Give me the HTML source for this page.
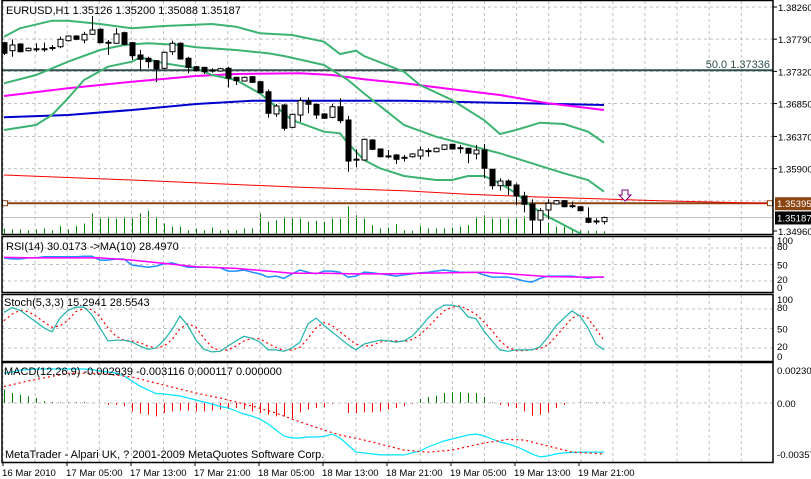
<!DOCTYPE html>
<html><head><meta charset="utf-8"><style>
html,body{margin:0;padding:0;background:#fff;overflow:hidden}
svg{display:block;font-family:"Liberation Sans",sans-serif;font-size:11px}
#axes text{font-size:9.6px}
</style></head><body>
<svg id="chart" width="811" height="479" viewBox="0 0 811 479" xmlns="http://www.w3.org/2000/svg">
<defs>
<clipPath id="cMain"><rect x="2" y="1" width="771" height="233"/></clipPath>
<clipPath id="cRsi"><rect x="2" y="237" width="771" height="55"/></clipPath>
<clipPath id="cSto"><rect x="2" y="295" width="771" height="66"/></clipPath>
<clipPath id="cMacd"><rect x="2" y="363" width="771" height="99"/></clipPath>
</defs>
<rect x="0" y="0" width="811" height="479" fill="#fff"/>
<g id="grid"></g>
<g id="main" clip-path="url(#cMain)"></g>
<g id="rsi" clip-path="url(#cRsi)"></g>
<g id="sto" clip-path="url(#cSto)"></g>
<g id="macd" clip-path="url(#cMacd)"></g>
<g id="frames">
<rect x="2" y="0.5" width="771" height="234" fill="none" stroke="#000" stroke-width="1.5"/>
<rect x="2" y="236.5" width="771" height="56" fill="none" stroke="#000" stroke-width="1.5"/>
<rect x="2" y="294.5" width="771" height="67" fill="none" stroke="#000" stroke-width="1.5"/>
<rect x="2" y="362.5" width="771" height="100" fill="none" stroke="#000" stroke-width="1.5"/>
</g>
<g id="axes"></g>
<text x="6" y="14">EURUSD,H1  1.35126 1.35200 1.35088 1.35187</text>
<text x="6" y="250">RSI(14) 30.0173  -&gt;MA(10) 28.4970</text>
<text x="4" y="306">Stoch(5,3,3) 15.2941 28.5543</text>
<text x="4" y="375">MACD(12,26,9) -0.002939 -0.003116 0.000117 0.000000</text>
<text x="5" y="458">MetaTrader - Alpari UK, ? 2001-2009 MetaQuotes Software Corp.</text>
<text x="770" y="68" text-anchor="end" fill="#2f4f4f">50.0 1.37336</text>
<polygon points="622,190 628,190 628,195 631,195 625,201 619,195 622,195" fill="#fff" stroke="#800080"/>
</svg>
<script>
// ---- data ----
const opens=[1.37739,1.37622,1.37720,1.37622,1.37650,1.37647,1.37665,1.37680,1.37768,1.37836,
1.37778,1.37861,1.37934,1.37745,1.37730,1.37885,1.37739,1.37559,1.37511,1.37476,
1.37365,1.37607,1.37730,1.37511,1.37388,1.37378,1.37338,1.37325,1.37365,1.37233,
1.37179,1.37242,1.37169,1.37023,1.36698,1.36829,1.36503,1.36683,1.36892,1.36839,
1.36698,1.36649,1.36804,1.36610,1.36036,1.36026,1.36318,1.36187,1.36086,1.36099,
1.36065,1.36074,1.36084,1.36161,1.36147,1.36182,1.36255,1.36206,1.36197,1.36114,
1.36172,1.35890,1.35651,1.35719,1.35661,1.35500,1.35384,1.35150,1.35296,1.35384,
1.35432,1.35359,1.35344,1.35175,1.35136,1.35126];
const highs=[1.37753,1.37788,1.37730,1.37670,1.37730,1.37739,1.37705,1.37826,1.37850,1.37850,
1.37899,1.38128,1.37950,1.37778,1.37949,1.37900,1.37750,1.37632,1.37534,1.37486,
1.37610,1.37768,1.37745,1.37534,1.37400,1.37388,1.37365,1.37375,1.37388,1.37240,
1.37245,1.37250,1.37180,1.37058,1.36844,1.36844,1.36705,1.36936,1.36941,1.36850,
1.36710,1.36844,1.36927,1.36668,1.36182,1.36340,1.36330,1.36195,1.36172,1.36114,
1.36099,1.36125,1.36220,1.36197,1.36210,1.36255,1.36265,1.36245,1.36205,1.36245,
1.36260,1.35900,1.35759,1.35744,1.35686,1.35563,1.35452,1.35321,1.35452,1.35442,
1.35442,1.35417,1.35350,1.35335,1.35175,1.35200];
const lows=[1.37559,1.37534,1.37598,1.37610,1.37607,1.37607,1.37622,1.37657,1.37755,1.37775,
1.37730,1.37855,1.37730,1.37559,1.37725,1.37700,1.37486,1.37340,1.37365,1.37164,
1.37350,1.37559,1.37490,1.37292,1.37320,1.37282,1.37301,1.37315,1.37087,1.37121,
1.37170,1.37150,1.37000,1.36644,1.36658,1.36454,1.36490,1.36585,1.36708,1.36625,
1.36625,1.36635,1.36562,1.35855,1.35919,1.36015,1.36170,1.36065,1.36051,1.35968,
1.36002,1.36060,1.36036,1.36074,1.36135,1.36170,1.36175,1.36124,1.35978,1.36036,
1.35759,1.35598,1.35578,1.35515,1.35369,1.35262,1.34931,1.34931,1.35160,1.35374,
1.35335,1.35321,1.35280,1.35102,1.35087,1.35088];
const closes=[1.37584,1.37705,1.37607,1.37657,1.37647,1.37650,1.37668,1.37788,1.37836,1.37788,
1.37861,1.37924,1.37739,1.37742,1.37866,1.37715,1.37549,1.37496,1.37461,1.37355,
1.37598,1.37730,1.37501,1.37378,1.37330,1.37315,1.37335,1.37359,1.37219,1.37184,
1.37233,1.37160,1.37008,1.36708,1.36814,1.36489,1.36693,1.36892,1.36839,1.36683,
1.36635,1.36804,1.36600,1.36011,1.36038,1.36328,1.36182,1.36074,1.36084,1.36036,
1.36063,1.36114,1.36172,1.36163,1.36197,1.36245,1.36187,1.36204,1.36124,1.36172,
1.35905,1.35651,1.35719,1.35651,1.35500,1.35379,1.35150,1.35286,1.35394,1.35432,
1.35344,1.35357,1.35286,1.35116,1.35134,1.35187];
const volumes=[500,400,400,330,400,500,330,730,400,730,1000,2000,1500,1670,1500,1670,1500,2000,2270,1670,
1000,670,670,330,500,330,600,330,330,330,500,500,2000,1170,1330,1670,1500,1500,1170,1270,
1170,1500,1500,2730,1830,1500,830,500,600,930,330,270,730,500,500,500,600,670,830,1670,
1830,1500,1500,1500,1500,1730,1330,670,1070,670,670,330,330,270,270,230];
const bbUpperIdx=[0,2,6,8,12,16,20,26,29,32,36,40,42,44,45,50,52,56,60,62,64,67,70,73,75];
const bbUpper=[1.37826,1.37949,1.38060,1.38060,1.38012,1.37949,1.37982,1.38012,1.37972,1.37876,1.37851,1.37753,1.37574,1.37622,1.37544,1.37315,1.37121,1.36902,1.36610,1.36406,1.36464,1.36571,1.36552,1.36439,1.36279];
const bbMidIdx=[0,4,8,12,15,18,22,24,29,33,35,40,43,45,50,54,58,62,66,70,73,75];
const bbMid=[1.37146,1.37267,1.37461,1.37632,1.37705,1.37730,1.37705,1.37671,1.37632,1.37584,1.37544,1.37413,1.37194,1.36999,1.36537,1.36366,1.36245,1.36124,1.35978,1.35832,1.35734,1.35563];
const bbLowIdx=[0,4,6,8,10,13,16,17,20,24,26,29,32,34,36,40,42,43,45,47,50,54,56,58,60,62,64,66,68,70,72,74];
const bbLow=[1.36464,1.36537,1.36683,1.36927,1.37194,1.37388,1.37461,1.37525,1.37438,1.37365,1.37267,1.37194,1.36999,1.36804,1.36610,1.36439,1.36416,1.36270,1.36026,1.35905,1.35792,1.35734,1.35734,1.35792,1.35792,1.35686,1.35540,1.35344,1.35198,1.35077,1.34956,1.34785];
const maMagIdx=[0,8,16,24,29,37,41,45,50,56,62,68,75];
const maMag=[1.36960,1.37073,1.37169,1.37252,1.37282,1.37292,1.37267,1.37204,1.37146,1.37058,1.36975,1.36854,1.36756];
const maBlueIdx=[0,8,16,24,31,50,75];
const maBlue=[1.36649,1.36683,1.36756,1.36844,1.36892,1.36892,1.36829];
const maRedIdx=[0,16,37,50,58,66,75,83,95,101];
const maRed=[1.35807,1.35734,1.35627,1.35578,1.35525,1.35490,1.35457,1.35427,1.35394,1.35380];
const fiboLevel=1.37336, brownLevel=1.35395, bidLevel=1.35187;
const priceTicks=[1.38260,1.37790,1.37320,1.36850,1.36370,1.35900];
const rsiVals=[62,60,60,62,62,64,64,64,64,64,65,65,58,58,60,60,49,47,45,47,51,53,49,45,45,45,45,44,38,38,
40,36,33,27,29,25,33,40,36,33,38,38,36,27,29,36,35,33,31,29,31,33,35,36,38,40,38,36,36,36,
31,27,27,27,24,20,18,25,29,29,29,29,27,25,27,27];
const rsiMaIdx=[0,4,8,12,16,20,24,29,33,36,40,44,48,52,56,60,64,68,72,75];
const rsiMa=[63,62,62,62,58,52,46,43,38,34,34,33,33,34,35,36,32,28,27,27];
const stochK=[75,82,78,69,60,51,45,66,78,83,83,71,51,31,32,32,29,23,18,20,32,48,69,54,32,18,14,15,23,31,
38,35,29,17,17,15,20,29,57,66,55,45,35,25,17,26,29,32,31,29,31,38,51,66,78,86,86,83,68,65,
46,31,17,15,17,17,17,22,37,54,66,77,69,51,26,17];
const stochD=[62,72,78,76,69,60,52,54,63,76,81,79,68,51,38,32,31,28,23,20,23,33,50,57,52,35,21,16,17,23,
31,35,34,27,21,16,17,21,35,51,59,55,45,35,26,23,24,29,31,31,30,33,40,52,65,77,83,85,79,72,
60,47,31,21,16,16,17,19,25,38,52,66,71,66,49,32];
const macdMain=[20.9,21.6,23,23.3,23.7,23.7,23.7,23.7,23.7,23.7,23.7,23.3,22.3,21.6,20.9,18.8,15.3,11.8,9.1,6.6,
6.3,5.6,4.9,3.5,2.1,0.7,-0.7,-2.4,-3.5,-5.6,-7.7,-9.1,-11.2,-14.6,-18.8,-23,-24.4,-24.4,-23.7,-23.7,
-23.3,-21.6,-24.4,-29.3,-34.2,-34.8,-35.5,-36.2,-36.2,-36.2,-36.2,-34.8,-33.5,-30.7,-28.6,-26.5,-25.1,-23.7,-22.3,-21.6,
-23,-25.1,-27.2,-28.6,-30.3,-32.8,-35.5,-37.6,-36.9,-35.5,-34.8,-34.5,-34.2,-34.2,-34.2,-34.2];
const macdSigIdx=[0,3,8,12,16,20,24,27,31,34,36,40,42,45,47,50,53,56,60,63,65,68,71,75];
const macdSig=[11.4,15.3,20.7,20.7,18.1,12.5,7,3.5,-2.1,-7,-11.2,-18.8,-22.3,-25.8,-28.6,-32.8,-34.2,-32.8,-27.9,-25.4,-25.8,-30,-34.2,-35.5];
const macdHist=[9.3,7,5.8,4.6,3.5,1.2,0.7,0.5,0.5,0.5,0.7,0.2,0,-1.2,-1.2,-2.3,-5.8,-7.4,-8.1,-9.3,
-7,-5.8,-5.1,-5.1,-5.8,-5.8,-5.1,-4.6,-4.2,-3.5,-4.2,-5.8,-7,-8.1,-9.3,-9.3,-10.5,-6.5,-4.6,-3.5,
-3,-0.5,0,-7,-7,-6.5,-6.5,-5.8,-4.6,-3.5,-2.3,-0.5,2.8,4.2,5.1,7,7.4,7.4,7,7,
4.2,0.5,-1.2,-2.3,-3.5,-5.8,-8.8,-8.1,-6.5,-3.5,-1.2,0,0.4,0.4,0.4,0.4];
const dateLabels=["16 Mar 2010","17 Mar 05:00","17 Mar 13:00","17 Mar 21:00","18 Mar 05:00","18 Mar 13:00","18 Mar 21:00","19 Mar 05:00","19 Mar 13:00","19 Mar 21:00"];
const oscTicks=[80,50,20];

// ---- axis functions ----
const NS="http://www.w3.org/2000/svg";
const xb=i=>4+8*i;
const yP=p=>(1.38362-p)/0.000146;
const yVol=v=>233.5-v/100;
const yRsi=v=>292-0.55*v;
const ySto=v=>361-0.65*v;
const yMacd=v=>403-v*1.4348;
function mk(tag,attrs,parent){const e=document.createElementNS(NS,tag);for(const k in attrs)e.setAttribute(k,attrs[k]);parent.appendChild(e);return e;}
const G=id=>document.getElementById(id);

// grid
const grid=G('grid');
for(let x=3;x<773;x+=32.1){
 for(const [a,b] of [[1,234],[237,292],[295,361],[363,462]]){
  const l=mk('line',{x1:x,x2:x,y1:a,y2:b,stroke:'#c0c0c0','stroke-dasharray':'3,3'},grid);
  
  
 }
}
priceTicks.concat([1.35430]).forEach(p=>{
 const l=mk('line',{x1:2,x2:773,y1:yP(p),y2:yP(p),stroke:'#c0c0c0','stroke-dasharray':'3,3'},grid);
 
 
});
oscTicks.forEach(v=>{
 const a=mk('line',{x1:2,x2:773,y1:yRsi(v),y2:yRsi(v),stroke:'#c0c0c0','stroke-dasharray':'3,3'},grid);
 
 
 const b=mk('line',{x1:2,x2:773,y1:ySto(v),y2:ySto(v),stroke:'#c0c0c0','stroke-dasharray':'3,3'},grid);
 
 
});
const z=mk('line',{x1:2,x2:773,y1:yMacd(0),y2:yMacd(0),stroke:'#c0c0c0','stroke-dasharray':'3,3'},grid);



// main panel
const main=G('main');
volumes.forEach((v,i)=>{
 const l=mk('line',{x1:xb(i)+0.5,x2:xb(i)+0.5,y1:233.5,y2:yVol(v),stroke:'#008000'},main);
 
 
});
function hline(p,color,w,name){const l=mk('line',{x1:2,x2:773,y1:yP(p),y2:yP(p),stroke:color,'stroke-width':w},main);
 
 }
hline(bidLevel,'#c0c0c0',1,'bid-price-line');
hline(fiboLevel,'#2f4f4f',2,'fibo-50-line');
hline(brownLevel,'#8b4513',2,'horizontal-level-line');
function poly(idx,vals,yf,color,w,parent,name,dash){
 const pts=vals.map((v,k)=>xb(idx?idx[k]:k)+','+yf(v).toFixed(1)).join(' ');
 const a={points:pts,fill:'none',stroke:color,'stroke-width':w};
 if(dash)a['stroke-dasharray']=dash;
 const e=mk('polyline',a,parent);
 
 
}
poly(maRedIdx,maRed,yP,'#ff0000',1,main,'ma-red-line');
poly(maBlueIdx,maBlue,yP,'#0000cd',2,main,'ma-blue-line');
poly(maMagIdx,maMag,yP,'#ff00ff',2,main,'ma-magenta-line');
poly(bbUpperIdx,bbUpper,yP,'#3cb371',2,main,'bollinger-upper');
poly(bbMidIdx,bbMid,yP,'#3cb371',2,main,'bollinger-middle');
poly(bbLowIdx,bbLow,yP,'#3cb371',2,main,'bollinger-lower');
opens.forEach((o,i)=>{
 const x=xb(i),c=closes[i];
 const w=mk('line',{x1:x+0.5,x2:x+0.5,y1:yP(highs[i]),y2:yP(lows[i]),stroke:'#000'},main);
 
 
 const top=yP(Math.max(o,c)),bot=yP(Math.min(o,c));
 const h=Math.max(bot-top,1);
 const r=mk('rect',{x:x-2,y:top,width:5,height:h,fill:c>=o?'#fff':'#000',stroke:'#000','stroke-width':1},main);
 
 
});
[5,770].forEach(x=>{const s=mk('rect',{x:x-2.5,y:yP(brownLevel)-2.5,width:5,height:5,fill:'#fff',stroke:'#8b4513'},main);
 
 });

// rsi
const rsi=G('rsi');
poly(null,rsiVals,yRsi,'#1e90ff',1.5,rsi,'rsi-line');
poly(rsiMaIdx,rsiMa,yRsi,'#ff00ff',1.5,rsi,'rsi-ma-line');
// stoch
const sto=G('sto');
poly(null,stochD,ySto,'#ff0000',1.2,sto,'stoch-signal-line','2,3');
poly(null,stochK,ySto,'#20b2aa',1.2,sto,'stoch-main-line');
// macd
const macd=G('macd');
macdHist.forEach((v,i)=>{
 if(v===0)return;
 const l=mk('line',{x1:xb(i)+0.5,x2:xb(i)+0.5,y1:yMacd(0),y2:yMacd(v),stroke:v>0?'#008000':'#ff0000'},macd);
 
 
});
poly(null,macdMain,yMacd,'#00e5ff',1.2,macd,'macd-main-line');
poly(macdSigIdx,macdSig,yMacd,'#ff0000',1.2,macd,'macd-signal-line','2,3');

// axes labels
const ax=G('axes');
function lbl(x,y,t,name,fill,anchor){const e=mk('text',{x:x,y:y,fill:fill||'#000'},ax);if(anchor)e.setAttribute('text-anchor',anchor);e.textContent=t;
 
 return e;}
function tick(y){const l=mk('line',{x1:773,x2:777,y1:y,y2:y,stroke:'#000'},ax);
 
 }
priceTicks.forEach(p=>{tick(yP(p));lbl(778,yP(p)+4,p.toFixed(5),'price-tick-label');});
tick(231);lbl(778,235,'1.34960','price-tick-label');
const bb=mk('rect',{x:775,y:yP(brownLevel)-6,width:36,height:13,fill:'#8b4513'},ax);


lbl(777,yP(brownLevel)+4,brownLevel.toFixed(5),'level-price-label','#fff');
const bk=mk('rect',{x:775,y:yP(bidLevel)-6,width:36,height:13,fill:'#000'},ax);


lbl(777,yP(bidLevel)+4,bidLevel.toFixed(5),'bid-price-label','#fff');
[[100,yRsi(100)+7],[80,yRsi(80)+2],[50,yRsi(50)+4],[20,yRsi(20)+2],[0,yRsi(0)-1]].forEach(([v,y])=>lbl(777,y,String(v),'rsi-tick-label'));
[[100,ySto(100)+7],[80,ySto(80)+2],[50,ySto(50)+4],[20,ySto(20)+2],[0,ySto(0)-1]].forEach(([v,y])=>lbl(777,y,String(v),'stoch-tick-label'));
lbl(777,yMacd(23)+4,"0.002307",'macd-tick-label');
lbl(777,yMacd(0)+4,"0.00",'macd-tick-label');
lbl(777,yMacd(-35.7)+4,"-0.00357",'macd-tick-label');
dateLabels.forEach((t,k)=>{
 const x=2+64*k;
 const l=mk('line',{x1:x+1,x2:x+1,y1:462,y2:466,stroke:'#000'},ax);
 
 
 lbl(x,476,t,'time-tick-label');
});
</script>
</body></html>
